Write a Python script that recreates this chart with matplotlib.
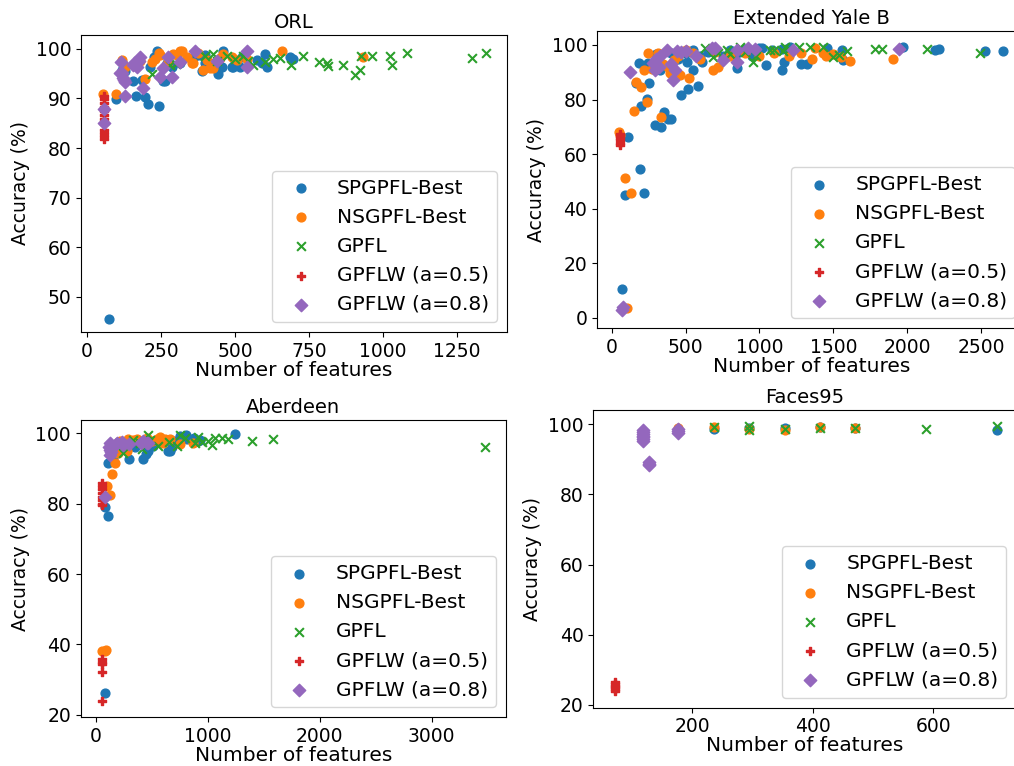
import matplotlib
matplotlib.use("Agg")
import matplotlib.pyplot as plt

plt.rcParams['font.family'] = ['DejaVu Sans']

LABELS = ["SPGPFL-Best", "NSGPFL-Best", "GPFL", "GPFLW (a=0.5)", "GPFLW (a=0.8)"]
TITLES = ["ORL", "Extended Yale B", "Aberdeen", "Faces95"]

# ---------------- ORL ----------------
ORL_SP = [(75, 45.5), (98, 89.9), (117, 95.8), (156, 93.5), (166, 90.4), (196, 90.3), (207, 88.9),
          (244, 88.4), (213, 96.4), (226, 98.4), (235, 99.5), (258, 93.5), (265, 93.5), (286, 96.4),
          (314, 97.1), (382, 98.8), (387, 95.6), (416, 97.1), (444, 95.0), (455, 96.4), (460, 99.5),
          (494, 96.4), (500, 97.6), (517, 96.4), (573, 97.8), (601, 99.0), (607, 96.4), (686, 98.4),
          (697, 97.9), (269, 97.1), (365, 98.6), (399, 97.1), (399, 98.8), (452, 96.4), (489, 96.4),
          (523, 98.4), (590, 97.1), (185, 93.8), (130, 95.5)]
ORL_NS = [(55, 90.9), (98, 90.9), (117, 97.8), (128, 96.4), (196, 93.9), (219, 97.4), (247, 98.8),
          (275, 97.4), (314, 99.5), (337, 98.4), (359, 97.1), (376, 99.1), (393, 95.8), (416, 96.1),
          (404, 97.8), (460, 99.0), (489, 98.4), (506, 97.8), (658, 99.5), (933, 98.4), (244, 99.1),
          (303, 98.8), (320, 99.5), (354, 97.1), (427, 96.1), (449, 98.1), (160, 96.8), (180, 97.5),
          (230, 98.0), (290, 98.9), (540, 98.0)]
ORL_GP = [(219, 95.0), (280, 96.8), (300, 97.0), (400, 98.5), (427, 99.0), (440, 97.5), (472, 98.5),
          (500, 98.0), (527, 98.5), (545, 97.5), (561, 96.8), (601, 97.4), (629, 98.0), (652, 98.2),
          (691, 96.8), (729, 98.5), (784, 97.4), (810, 97.2), (815, 96.5), (865, 96.7), (905, 94.8),
          (922, 95.8), (925, 98.5), (964, 98.5), (1024, 98.5), (1031, 96.8), (1081, 99.2),
          (1300, 98.2), (1348, 99.2)]
ORL_W5 = [(57, 90.5), (57, 89.8), (57, 89.0), (57, 88.2), (57, 87.4), (57, 86.6), (57, 85.8),
          (57, 84.8), (57, 83.6), (57, 83.0), (57, 82.4), (57, 81.8)]
ORL_W8 = [(57, 87.9), (57, 85.0), (115, 97.4), (111, 95.2), (123, 94.1), (128, 93.4), (128, 90.4),
          (160, 97.1), (168, 96.4), (179, 98.4), (177, 97.6), (190, 92.1), (247, 94.4), (258, 96.1),
          (275, 98.4), (286, 94.4), (314, 97.3), (365, 99.5), (438, 97.6), (540, 99.5), (541, 96.4),
          (126, 93.7), (156, 96.8), (117, 95.1)]

# ---------------- Extended Yale B ----------------
YALE_SP = [(72, 10.7), (90, 45.0), (113, 66.1), (191, 54.4), (221, 45.8), (187, 93.3), (162, 85.9),
           (196, 77.6), (237, 80.1), (254, 85.9), (293, 70.6), (331, 70.0), (354, 75.5), (383, 72.7),
           (401, 72.7), (467, 81.7), (514, 83.9), (586, 85.1), (552, 90.8), (507, 93.9), (248, 93.3),
           (327, 90.8), (609, 93.9), (846, 91.4), (1044, 92.7), (1152, 90.8), (1166, 93.6),
           (1279, 92.9), (1319, 92.9), (1567, 94.5), (1015, 98.8), (1083, 98.2), (1206, 99.1),
           (1455, 98.8), (1556, 98.2), (1973, 99.1), (2187, 98.2), (2217, 98.5), (2526, 97.6),
           (2650, 97.8), (300, 96.5), (400, 97.0), (450, 95.0), (500, 97.0), (550, 98.0), (600, 96.0),
           (650, 97.5), (700, 98.5), (750, 96.0), (800, 98.0), (850, 97.0), (900, 98.5), (950, 96.0),
           (1000, 99.0), (1100, 97.5), (1150, 98.5), (1200, 99.0)]
YALE_NS = [(52, 68.2), (56, 67.0), (90, 51.1), (128, 45.9), (101, 3.6), (151, 75.8), (164, 86.5),
           (196, 84.7), (237, 79.2), (218, 90.8), (248, 96.9), (311, 97.2), (331, 73.7), (394, 89.6),
           (462, 89.0), (525, 87.8), (687, 90.8), (721, 91.8), (1279, 97.2), (1353, 94.7),
           (1375, 98.8), (1430, 97.2), (1612, 94.1), (1901, 94.7), (300, 95.0), (350, 93.0),
           (450, 96.0), (550, 97.0), (600, 95.0), (700, 97.5), (800, 96.0), (900, 97.0), (1000, 96.0),
           (1100, 97.0), (1200, 96.0), (1450, 96.0), (1500, 96.5), (1550, 95.5), (380, 92.0),
           (420, 94.5), (270, 91.0), (500, 98.0)]
YALE_GP = [(631, 98.8), (687, 95.7), (778, 98.2), (868, 99.1), (958, 93.9), (1071, 98.2), (1161, 97.9),
           (1173, 99.1), (1269, 99.1), (1342, 99.1), (1432, 99.4), (1499, 95.7), (1540, 96.3),
           (1590, 97.9), (1781, 98.5), (1826, 98.5), (2131, 98.5), (2492, 96.9), (720, 97.0),
           (800, 96.5), (900, 97.5), (1100, 98.0), (1200, 98.5), (980, 96.0)]
YALE_W5 = [(55, 67.5), (55, 66.5), (55, 65.8), (55, 65.0), (55, 64.2), (55, 63.3)]
YALE_W8 = [(68, 2.8), (79, 3.9), (124, 90.2), (281, 93.3), (292, 90.8), (303, 94.7), (320, 92.0),
           (376, 98.2), (417, 87.2), (428, 90.8), (440, 97.6), (470, 97.5), (400, 93.0), (570, 96.0),
           (677, 98.8), (755, 94.5), (846, 98.2), (850, 93.9), (924, 98.8), (969, 98.4), (1225, 98.2),
           (1946, 98.5), (700, 98.9), (500, 97.8), (330, 96.0)]

# ---------------- Aberdeen ----------------
ABER_SP = [(83, 26.1), (113, 76.6), (83, 79.1), (113, 91.5), (158, 93.0), (300, 92.8), (425, 92.8),
           (470, 95.0), (648, 95.0), (678, 96.0), (753, 99.3), (806, 99.5), (1244, 99.8), (916, 97.7),
           (515, 96.4), (574, 98.3), (396, 97.4), (247, 95.5), (663, 94.9), (812, 98.3), (931, 98.1),
           (350, 96.0), (550, 97.5), (700, 97.8), (880, 98.6), (200, 95.8), (450, 94.0)]
ABER_NS = [(54, 38.2), (83, 38.2), (92, 38.3), (128, 82.5), (98, 84.9), (143, 88.4), (173, 91.5),
           (247, 96.4), (292, 98.5), (366, 98.5), (545, 98.5), (619, 98.5), (604, 97.2), (872, 97.2),
           (202, 94.5), (276, 94.9), (336, 98.1), (455, 98.6), (574, 99.0), (753, 97.1), (400, 97.5),
           (500, 97.8), (660, 98.3), (150, 96.8), (220, 97.8)]
ABER_GP = [(247, 94.3), (396, 97.2), (470, 99.4), (485, 98.0), (723, 96.3), (753, 99.4), (887, 97.2),
           (916, 98.9), (1005, 97.7), (1036, 96.8), (1065, 98.7), (1125, 98.7), (1184, 98.3),
           (1393, 97.7), (1586, 98.3), (3476, 96.2), (411, 95.5), (336, 98.0), (560, 96.5),
           (650, 97.5), (800, 98.8), (950, 97.5)]
ABER_W5 = [(55, 85.8), (55, 85.0), (55, 84.2), (55, 83.0), (55, 82.0), (55, 81.0), (55, 80.0),
           (55, 79.5), (55, 36.0), (55, 35.0), (55, 34.5), (55, 32.3), (55, 23.8)]
ABER_W8 = [(83, 82.0), (128, 97.2), (128, 95.3), (128, 93.9), (120, 96.0), (187, 97.2), (247, 96.7),
           (455, 97.2), (425, 97.8), (178, 97.1), (237, 97.5), (404, 97.3), (464, 97.3), (140, 94.8),
           (300, 97.0)]

# ---------------- Faces95 ----------------
FACE_SP = [(236, 98.7), (295, 99.0), (354, 99.0), (412, 99.2), (471, 99.0), (706, 98.5)]
FACE_NS = [(177, 98.9), (236, 99.2), (295, 98.8), (354, 98.5), (412, 99.1), (471, 99.0)]
FACE_GP = [(236, 99.2), (295, 99.5), (295, 98.5), (354, 98.8), (412, 99.0), (471, 99.0),
           (588, 98.6), (706, 99.4)]
FACE_W5 = [(72, 26.5), (72, 26.0), (72, 25.5), (72, 25.0), (72, 24.5), (72, 24.0)]
FACE_W8 = [(119, 98.3), (119, 97.8), (119, 97.3), (119, 96.8), (119, 96.3), (119, 95.8), (119, 95.3),
           (129, 89.2), (129, 88.7), (129, 88.3), (177, 98.6), (177, 98.0), (177, 97.4)]

PANELS = [
    (TITLES[0], [ORL_SP, ORL_NS, ORL_GP, ORL_W5, ORL_W8]),
    (TITLES[1], [YALE_SP, YALE_NS, YALE_GP, YALE_W5, YALE_W8]),
    (TITLES[2], [ABER_SP, ABER_NS, ABER_GP, ABER_W5, ABER_W8]),
    (TITLES[3], [FACE_SP, FACE_NS, FACE_GP, FACE_W5, FACE_W8]),
]

POSITIONS = [
    [0.0799, 0.5666, 0.4201, 0.3877],
    [0.5888, 0.5712, 0.4225, 0.3883],
    [0.0796, 0.0636, 0.4194, 0.3881],
    [0.5851, 0.0761, 0.4173, 0.3887],
]
XLIMS = [(-20, 1419), (-99, 2800), (-134, 3663), (35.7, 738.3)]
YLIMS = [(42.9, 102.8), (-3.9, 105.1), (19.3, 103.8), (19.2, 104.1)]

MARKERS = ['o', 'o', 'x', 'P', 'D']
COLORS = ['C0', 'C1', 'C2', 'C3', 'C4']

fig = plt.figure(figsize=(10.14, 7.66), dpi=100)
for (title, series), pos, xl, yl in zip(PANELS, POSITIONS, XLIMS, YLIMS):
    ax = fig.add_axes(pos)
    for pts, m, c, lab in zip(series, MARKERS, COLORS, LABELS):
        xs = [p[0] for p in pts]
        ys = [p[1] for p in pts]
        ax.scatter(xs, ys, marker=m, color=c, label=lab, s=40)
    ax.set_xlim(*xl)
    ax.set_ylim(*yl)
    ax.set_title(title, fontsize=14, pad=5)
    ax.set_xlabel("Number of features", fontsize=14.5, labelpad=0)
    ax.set_ylabel("Accuracy (%)", fontsize=13.5)
    ax.tick_params(labelsize=13.5)
    ax.legend(loc='lower right', fontsize=14.5)

fig.savefig("out.png", dpi=100)
